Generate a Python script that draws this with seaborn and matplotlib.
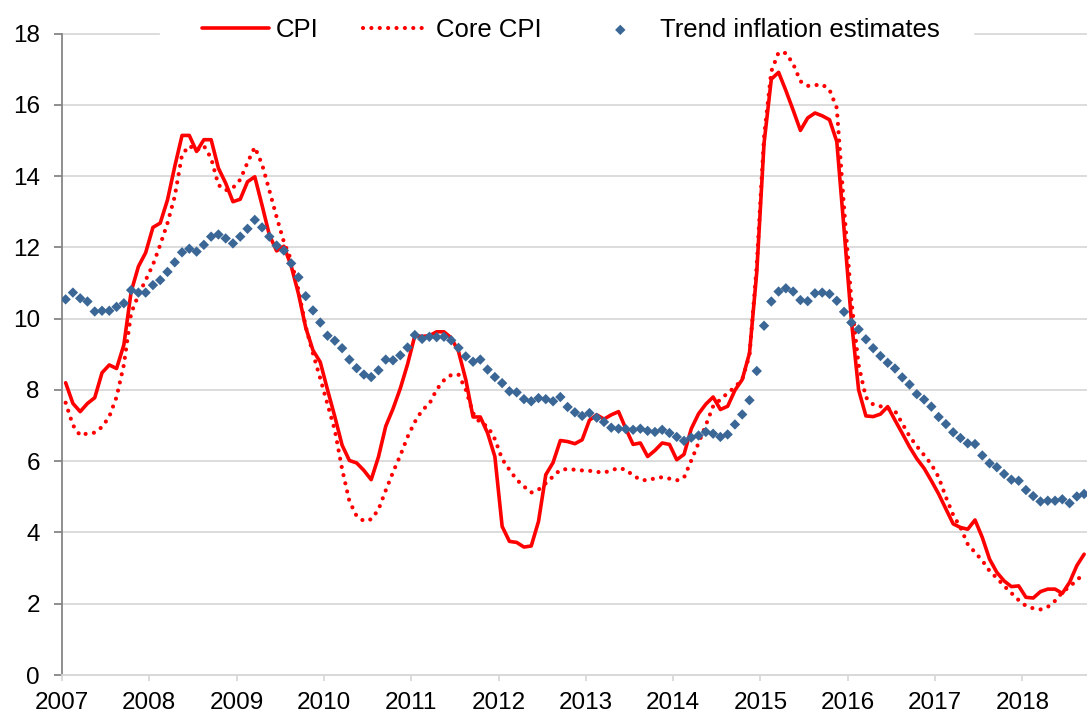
import numpy as np
import pandas as pd
import seaborn as sns
import matplotlib.pyplot as plt

# Monthly series, Jan 2007 - Sep 2018
cpi = [
    8.20, 7.62, 7.39, 7.62, 7.78, 8.48, 8.70, 8.60, 9.26, 10.75, 11.46, 11.85,
    12.56, 12.68, 13.33, 14.27, 15.14, 15.14, 14.69, 15.02, 15.02, 14.22, 13.80, 13.28,
    13.35, 13.84, 13.98, 13.18, 12.35, 11.90, 12.03, 11.48, 10.70, 9.75, 9.11, 8.78,
    8.00, 7.25, 6.45, 6.02, 5.95, 5.74, 5.48, 6.12, 6.98, 7.47, 8.04, 8.72,
    9.52, 9.50, 9.52, 9.63, 9.63, 9.46, 9.08, 8.29, 7.24, 7.24, 6.79, 6.13,
    4.17, 3.75, 3.72, 3.59, 3.62, 4.31, 5.62, 5.96, 6.58, 6.55, 6.49, 6.60,
    7.15, 7.30, 7.18, 7.30, 7.39, 6.91, 6.47, 6.51, 6.13, 6.30, 6.51, 6.47,
    6.04, 6.19, 6.91, 7.33, 7.60, 7.80, 7.45, 7.54, 7.99, 8.29, 9.03, 11.30,
    14.92, 16.72, 16.91, 16.40, 15.85, 15.28, 15.63, 15.77, 15.69, 15.58, 14.97, 12.50,
    9.96, 8.00, 7.27, 7.25, 7.32, 7.53, 7.15, 6.78, 6.40, 6.07, 5.80, 5.45,
    5.08, 4.66, 4.24, 4.14, 4.09, 4.35, 3.86, 3.25, 2.88, 2.64, 2.48, 2.50,
    2.18, 2.16, 2.34, 2.41, 2.41, 2.29, 2.60, 3.07, 3.39,
]
core_cpi = [
    7.64, 7.01, 6.72, 6.78, 6.80, 6.96, 7.25, 7.80, 8.70, 10.15, 10.66, 11.08,
    11.51, 12.07, 12.68, 13.43, 14.60, 14.85, 14.72, 14.85, 14.50, 13.75, 13.60, 13.67,
    13.90, 14.38, 14.81, 14.33, 13.60, 12.85, 12.15, 11.64, 10.80, 9.77, 9.02, 8.32,
    7.60, 6.87, 5.78, 4.88, 4.46, 4.32, 4.37, 4.64, 5.18, 5.69, 6.16, 6.68,
    7.10, 7.43, 7.61, 8.01, 8.27, 8.42, 8.43, 8.01, 7.35, 7.07, 6.98, 6.62,
    6.06, 5.76, 5.48, 5.29, 5.12, 5.20, 5.38, 5.57, 5.76, 5.78, 5.76, 5.74,
    5.73, 5.70, 5.68, 5.74, 5.81, 5.76, 5.60, 5.48, 5.46, 5.52, 5.55, 5.51,
    5.46, 5.54, 6.02, 6.51, 7.01, 7.54, 7.73, 7.91, 8.08, 8.29, 8.97, 11.50,
    15.10, 16.94, 17.47, 17.45, 17.15, 16.66, 16.53, 16.55, 16.57, 16.42, 15.91, 13.10,
    10.52, 8.70, 7.79, 7.59, 7.54, 7.48, 7.41, 7.06, 6.70, 6.42, 6.17, 5.91,
    5.55, 4.99, 4.49, 4.14, 3.67, 3.44, 3.21, 2.92, 2.72, 2.50, 2.30, 2.10,
    1.94, 1.87, 1.84, 1.91, 2.08, 2.32, 2.48, 2.66, 2.85,
]
trend = [
    10.54, 10.73, 10.57, 10.48, 10.20, 10.22, 10.22, 10.33, 10.43, 10.80, 10.73, 10.73,
    10.94, 11.08, 11.31, 11.58, 11.86, 11.96, 11.88, 12.07, 12.30, 12.36, 12.25, 12.11,
    12.30, 12.52, 12.77, 12.56, 12.30, 12.05, 11.91, 11.55, 11.16, 10.63, 10.23, 9.89,
    9.52, 9.38, 9.17, 8.85, 8.61, 8.43, 8.36, 8.55, 8.85, 8.83, 8.97, 9.19,
    9.54, 9.43, 9.49, 9.48, 9.49, 9.39, 9.18, 8.94, 8.79, 8.85, 8.57, 8.36,
    8.19, 7.96, 7.93, 7.74, 7.68, 7.77, 7.74, 7.68, 7.80, 7.52, 7.37, 7.27,
    7.35, 7.22, 7.10, 6.94, 6.91, 6.90, 6.88, 6.91, 6.85, 6.82, 6.88, 6.79,
    6.68, 6.57, 6.66, 6.72, 6.82, 6.77, 6.68, 6.75, 7.03, 7.31, 7.71, 8.53,
    9.80, 10.48, 10.76, 10.85, 10.76, 10.52, 10.49, 10.71, 10.73, 10.69, 10.50, 10.19,
    9.89, 9.70, 9.42, 9.17, 8.95, 8.76, 8.60, 8.35, 8.15, 7.88, 7.73, 7.53,
    7.24, 7.04, 6.81, 6.65, 6.50, 6.48, 6.16, 5.94, 5.83, 5.64, 5.48, 5.45,
    5.19, 5.02, 4.87, 4.89, 4.89, 4.93, 4.82, 5.01, 5.08,
]
years = list(range(2007, 2019))
y_ticks = list(range(0, 19, 2))

dates = pd.date_range("2007-01-01", periods=len(cpi), freq="MS")
df = pd.DataFrame({
    "t": dates.year + (dates.month - 0.5) / 12,
    "cpi": cpi,
    "core": core_cpi,
    "trend": trend,
})

sns.set_style("white")
plt.rcParams["font.family"] = ["Liberation Sans", "DejaVu Sans"]
plt.rcParams["text.color"] = "black"

fig = plt.figure(figsize=(10.87, 7.15), dpi=100)
ax = fig.add_axes([62 / 1087, 40 / 715, 1025 / 1087, 641.5 / 715])

sns.lineplot(data=df, x="t", y="cpi", ax=ax, color="#FF0000", lw=2.6,
             label="CPI", zorder=3)
sns.lineplot(data=df, x="t", y="core", ax=ax, color="#FF0000", lw=3.0,
             linestyle=(0, (0.01, 2.0)), label="Core CPI", zorder=3)
sns.scatterplot(data=df, x="t", y="trend", ax=ax, color="#3B6797", marker="D",
                s=28, edgecolor="none", label="Trend inflation estimates", zorder=4)
ax.lines[1].set_dash_capstyle("round")

ax.set_xlim(2007, 2007 + 1025 / 87.3)
ax.set_ylim(0, 18)
ax.set_xticks(years)
ax.set_yticks(y_ticks)
ax.set_xlabel("")
ax.set_ylabel("")

ax.yaxis.grid(True, color="#D9D9D9", lw=1.3)
ax.xaxis.grid(False)
for gl in ax.get_ygridlines():
    gl.set_clip_on(False)
ax.set_axisbelow(True)

for s in ["top", "right"]:
    ax.spines[s].set_visible(False)
ax.spines["left"].set_color("#868686")
ax.spines["left"].set_linewidth(1.3)
ax.spines["bottom"].set_color("#D9D9D9")
ax.spines["bottom"].set_linewidth(1.3)

ax.tick_params(axis="y", length=6, width=1.3, color="#868686", pad=10,
               labelsize=17.5, labelcolor="black", left=True)
ax.tick_params(axis="x", length=4.5, width=1.3, color="#D9D9D9", pad=8,
               labelsize=17.5, labelcolor="black", bottom=True)

# white gap in the top gridline behind the legend
ax.axhspan(17.9, 18.1, xmin=(160 - 62) / 1025, xmax=(973 - 62) / 1025,
           color="white", zorder=2, clip_on=False)

leg = ax.legend(loc="center", bbox_to_anchor=((571 - 62) / 1025, 1.006), ncol=3,
                frameon=False, fontsize=18.5, handlelength=2.6, handletextpad=0.25,
                columnspacing=1.75)
for line in leg.get_lines():
    if line.get_linestyle() not in ("-", "None", ""):
        line.set_dash_capstyle("round")

fig.savefig("out.png", dpi=100)
